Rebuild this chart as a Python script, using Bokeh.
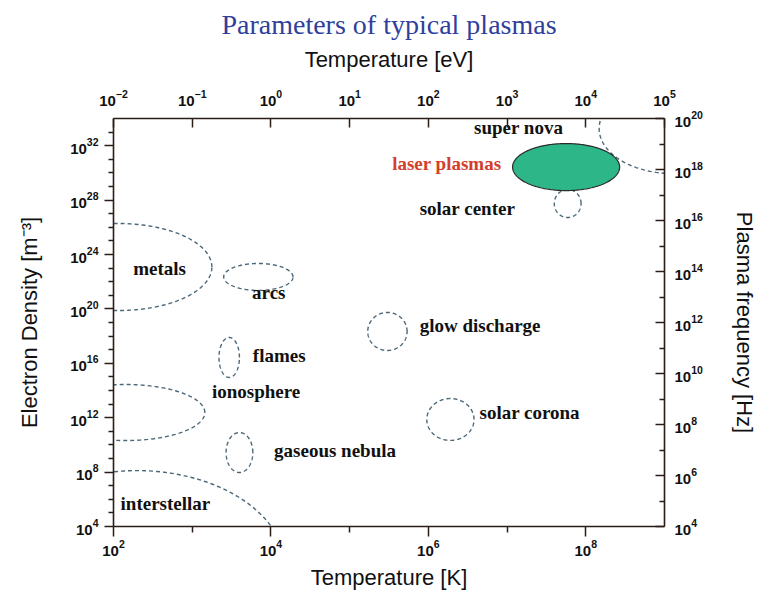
import numpy as np
from bokeh.plotting import figure
from bokeh.models import Range1d, LogAxis, FixedTicker, LogTickFormatter, LogScale, ColumnDataSource
from bokeh.core.properties import value
from bokeh.embed import file_html
from bokeh.resources import INLINE

# ---- data (log10 units) ----
# dashed regions: centre log10 T[K], centre log10 n[m^-3], half extents in decades
region_names = ["metals", "arcs", "flames", "ionosphere", "gaseous nebula", "glow discharge",
                "solar corona", "solar center", "super nova", "interstellar"]
region_logT = [2.06, 3.84, 3.47, 2.15, 3.60, 5.48, 6.28, 7.77, 9.11, 2.30]
region_logn = [23.08, 22.35, 16.43, 12.38, 9.44, 18.34, 11.87, 27.75, 33.26, 0.76]
region_dT = [1.19, 0.44, 0.13, 1.01, 0.17, 0.25, 0.30, 0.17, 0.94, 1.90]
region_dn = [3.20, 0.99, 1.47, 2.06, 1.47, 1.40, 1.54, 1.03, 3.31, 7.35]

# filled region: laser plasmas
laser_logT, laser_logn, laser_dT, laser_dn = 7.75, 30.43, 0.68, 1.73

# region labels
label_text = ["super nova", "laser plasmas", "solar center", "metals", "arcs", "glow discharge",
              "flames", "ionosphere", "solar corona", "gaseous nebula", "interstellar"]
label_logT = [6.58, 5.54, 5.89, 2.25, 3.76, 5.89, 3.77, 3.25, 6.65, 4.04, 2.09]
label_logn = [33.34, 30.69, 27.38, 22.97, 21.21, 18.78, 16.57, 13.93, 12.38, 9.59, 5.69]
label_color = ["#111111", "#d2402c", "#111111", "#111111", "#111111", "#111111",
               "#111111", "#111111", "#111111", "#111111", "#111111"]

# axis ticks
T_major = [1e2, 1e4, 1e6, 1e8]
T_minor = [1e3, 1e5, 1e7]
n_major = [1e4, 1e8, 1e12, 1e16, 1e20, 1e24, 1e28, 1e32]
n_minor = [10.0 ** k for k in range(5, 34) if k % 4 != 0]
eV_major = [10.0 ** k for k in range(-2, 6)]
f_major = [10.0 ** k for k in range(4, 21, 2)]
f_minor = [10.0 ** k for k in range(5, 20, 2)]

# ---- figure ----
p = figure(width=759, height=599, x_axis_type="log", y_axis_type="log",
           x_range=Range1d(1e2, 1e9), y_range=Range1d(1e4, 1e34),
           output_backend="svg", toolbar_location=None,
           min_border_left=113, min_border_right=93, min_border_top=118, min_border_bottom=73)
p.grid.visible = False
p.outline_line_color = None
p.background_fill_color = "white"

p.title.text = "Parameters of typical plasmas"
p.title.align = "center"
p.title.text_font = "Liberation Serif"
p.title.text_font_style = "normal"
p.title.text_font_size = "28px"
p.title.text_color = "#2f3f9c"
p.title.standoff = 7

AX_COLOR = "#2a1d17"
TICK_FONT = "Liberation Sans"


def style(ax, label, major_in, major_out, minor_in, minor_out, standoff, label_standoff):
    ax.axis_label = label
    ax.axis_label_text_font = "Liberation Sans"
    ax.axis_label_text_font_style = "normal"
    ax.axis_label_text_font_size = "22px"
    ax.axis_label_text_color = "#111111"
    ax.axis_label_standoff = label_standoff
    ax.major_label_text_font = TICK_FONT
    ax.major_label_text_font_style = "bold"
    ax.major_label_text_font_size = "15px"
    ax.major_label_text_color = "#111111"
    ax.major_label_standoff = standoff
    ax.axis_line_color = AX_COLOR
    ax.axis_line_width = 1.6
    ax.major_tick_line_color = AX_COLOR
    ax.minor_tick_line_color = AX_COLOR
    ax.major_tick_line_width = 1.5
    ax.minor_tick_line_width = 1.5
    ax.major_tick_in = major_in
    ax.major_tick_out = major_out
    ax.minor_tick_in = minor_in
    ax.minor_tick_out = minor_out
    ax.formatter = LogTickFormatter()


# bottom axis: temperature in K
bx = p.xaxis[0]
bx.ticker = FixedTicker(ticks=T_major, minor_ticks=T_minor)
style(bx, "Temperature [K]", 0, 10, 0, 6, 3, 6)

# left axis: density
ly = p.yaxis[0]
ly.ticker = FixedTicker(ticks=n_major, minor_ticks=n_minor)
style(ly, "Electron Density [m\u207b\u00b3]", 0, 9, 0, 5, 6, 25)

# top axis: temperature in eV
p.extra_x_ranges = {"eV": Range1d(1e-2, 1e5)}
p.extra_x_scales = {"eV": LogScale()}
tx = LogAxis(x_range_name="eV")
tx.ticker = FixedTicker(ticks=eV_major, minor_ticks=[])
style(tx, "Temperature [eV]", 9, 0, 0, 0, 13, 15)
p.add_layout(tx, "above")

# right axis: plasma frequency
p.extra_y_ranges = {"f": Range1d(1e4, 1e20)}
p.extra_y_scales = {"f": LogScale()}
ry = LogAxis(y_range_name="f")
ry.ticker = FixedTicker(ticks=f_major, minor_ticks=f_minor)
style(ry, "Plasma frequency [Hz]", 9, 0, 5, 0, 10, 26)
p.add_layout(ry, "right")

# ---- regions ----
theta = np.linspace(0, 2 * np.pi, 241)
xs, ys = [], []
for cT, cn, dT, dn in zip(region_logT, region_logn, region_dT, region_dn):
    xs.append(10.0 ** (cT + dT * np.cos(theta)))
    ys.append(10.0 ** (cn + dn * np.sin(theta)))
p.multi_line(xs=xs, ys=ys, line_color="#4c6878", line_width=1.4, line_dash="4 3")

p.patch(x=10.0 ** (laser_logT + laser_dT * np.cos(theta)),
        y=10.0 ** (laser_logn + laser_dn * np.sin(theta)),
        fill_color="#2db687", line_color="#2b2b2b", line_width=1.2)

src = ColumnDataSource(dict(x=[10.0 ** v for v in label_logT], y=[10.0 ** v for v in label_logn],
                            text=label_text, color=label_color))
p.text(x="x", y="y", text="text", source=src, text_color="color",
       text_font=value("Liberation Serif"), text_font_style="bold", text_font_size="19px",
       text_align="left", text_baseline="middle")

open("out.html", "w").write(file_html(p, INLINE))
